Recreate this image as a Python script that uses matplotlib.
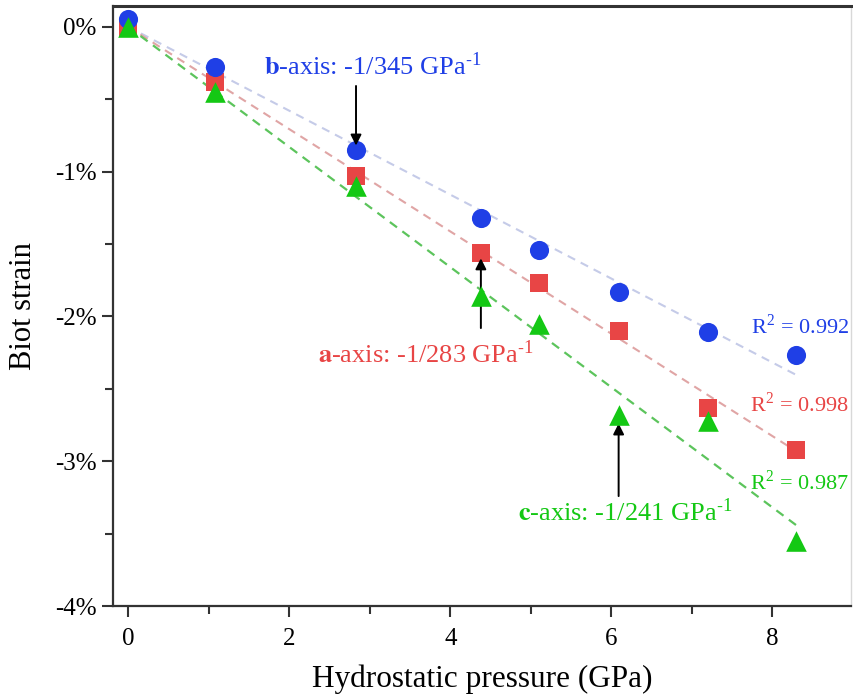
import numpy as np
import matplotlib
matplotlib.use("Agg")
import matplotlib.pyplot as plt
from matplotlib.ticker import MultipleLocator, FuncFormatter

plt.rcParams['font.family'] = ['Liberation Serif', 'DejaVu Serif']
plt.rcParams['mathtext.fontset'] = 'stix'

# pressure (GPa) and Biot strain (%)
pressure = [0.0, 1.08, 2.83, 4.38, 5.10, 6.09, 7.20, 8.29]
strain_b = [0.055, -0.277, -0.85, -1.32, -1.545, -1.83, -2.11, -2.27]
strain_a = [0.0, -0.38, -1.03, -1.56, -1.77, -2.10, -2.63, -2.92]
strain_c = [0.0, -0.45, -1.10, -1.86, -2.05, -2.68, -2.72, -3.55]

# compressibility fits: strain = -P / k  (k in GPa)
k_b, k_a, k_c = 345, 283, 241
r2_b, r2_a, r2_c = 0.992, 0.998, 0.987

blue = '#1f3fe6'
red = '#e84545'
green = '#14c814'

fig = plt.figure(figsize=(8.54, 6.95), dpi=100)
ax = fig.add_axes([0.132, 0.128, 0.865, 0.864])

p_fit = np.array([0.0, 8.3])
ax.plot(p_fit, -100 * p_fit / k_b, ls=(0, (4, 3)), color='#c5cbe8', lw=1.5, zorder=1)
ax.plot(p_fit, -100 * p_fit / k_a, ls=(0, (4, 3)), color='#e0a5a5', lw=1.5, zorder=1)
ax.plot(p_fit, -100 * p_fit / k_c, ls=(0, (4, 3)), color='#5cc45c', lw=1.6, zorder=1)

ax.scatter(pressure, strain_a, marker='s', s=150, color=red, zorder=3, lw=0)
ax.scatter(pressure, strain_b, marker='o', s=190, color=blue, zorder=3, lw=0)
ax.scatter(pressure, strain_c, marker='^', s=220, color=green, zorder=4, lw=0)

ax.set_xlim(-0.19, 8.98)
ax.set_ylim(-4.0, 0.146)

ax.xaxis.set_major_locator(MultipleLocator(2))
ax.xaxis.set_minor_locator(MultipleLocator(1))
ax.yaxis.set_major_locator(MultipleLocator(1))
ax.yaxis.set_minor_locator(MultipleLocator(0.5))
ax.yaxis.set_major_formatter(FuncFormatter(lambda v, pos: f"{v:.0f}%"))

ax.tick_params(which='both', direction='out', width=1.5, color='#333333', labelsize=18)
ax.tick_params(which='major', length=8)
ax.tick_params(which='minor', length=6)
ax.tick_params(axis='x', pad=8)

for side in ['left', 'bottom']:
    ax.spines[side].set_linewidth(1.6)
    ax.spines[side].set_color('#333333')
ax.spines['top'].set_linewidth(2.2)
ax.spines['top'].set_color('#333333')
ax.spines['right'].set_linewidth(1.0)
ax.spines['right'].set_color('#d8d8d8')

ax.set_xlabel('Hydrostatic pressure (GPa)', fontsize=22.5, labelpad=10)
ax.set_ylabel('Biot strain', fontsize=22, labelpad=12)

arrow = dict(arrowstyle='-|>', color='black', lw=1.4, mutation_scale=16)
sup = r'$^{\mathregular{\text{-}1}}$'

ax.text(3.04, -0.27, r'$\mathbf{b}$-axis: -1/345 GPa' + sup, color=blue, fontsize=19,
        ha='center', va='center')
ax.annotate('', xy=(2.83, -0.84), xytext=(2.83, -0.39), arrowprops=arrow)

ax.text(3.7, -2.26, r'$\mathbf{a}$-axis: -1/283 GPa' + sup, color=red,
        fontsize=19, ha='center', va='center')
ax.annotate('', xy=(4.38, -1.58), xytext=(4.38, -2.1), arrowprops=arrow)

ax.text(6.17, -3.35, r'$\mathbf{c}$-axis: -1/241 GPa' + sup, color=green,
        fontsize=19, ha='center', va='center')
ax.annotate('', xy=(6.09, -2.72), xytext=(6.09, -3.26), arrowprops=arrow)

ax.text(8.95, -2.07, f'R$^{{\\mathregular{{2}}}}$ = {r2_b}', color=blue, fontsize=16,
        ha='right', va='center')
ax.text(8.95, -2.61, f'R$^{{\\mathregular{{2}}}}$ = {r2_a}', color=red, fontsize=16,
        ha='right', va='center')
ax.text(8.95, -3.15, f'R$^{{\\mathregular{{2}}}}$ = {r2_c}', color=green, fontsize=16,
        ha='right', va='center')

fig.savefig('out.png', dpi=100)
